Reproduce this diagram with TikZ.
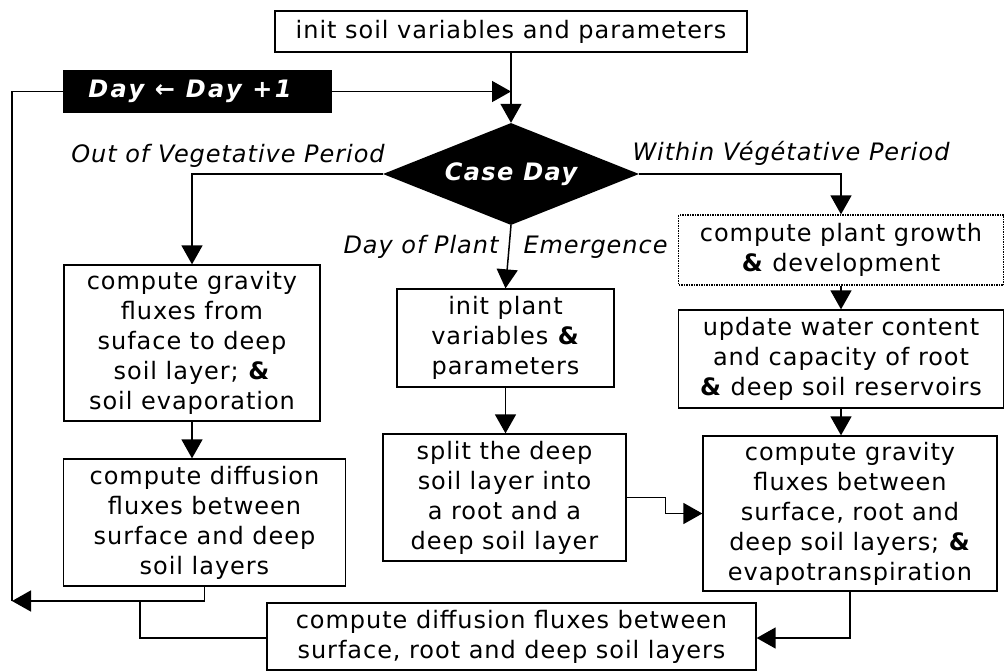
\documentclass[tikz,border=0pt]{standalone}
\usepackage{fontspec}
\setmainfont[LetterSpace=4]{DejaVu Sans}
\usetikzlibrary{arrows.meta,shapes.geometric}

\begin{document}
\begin{tikzpicture}[x=1pt, y=-1pt, font=\fontsize{24}{30}\selectfont,
    box/.style={draw, line width=1.3pt, inner sep=0pt, align=center},
    flow/.style={line width=1.5pt, -{Triangle[length=19pt,width=21pt]}},
    link/.style={line width=1.5pt},
    branch/.style={font=\fontsize{24}{30}\selectfont\itshape}]
    \useasboundingbox (0,0) rectangle (1004,670);

    % --- TRONC COMMUN ---
    \node[box, minimum width=472pt, minimum height=41pt] (initsoil) at (511,31.5) {init soil variables and parameters};
    \node[fill=black, text=white, inner sep=0pt, minimum width=269pt, minimum height=43pt,
          font=\fontsize{24}{30}\selectfont\bfseries\itshape\addfontfeatures{LetterSpace=10}] (day) at (197.5,91.5)
        {Day ← Day +1\hspace*{15pt}};
    \node[diamond, fill=black, text=white, inner sep=0pt, aspect=2.5, minimum width=256pt, minimum height=102pt,
          font=\fontsize{24}{30}\selectfont\bfseries\itshape\addfontfeatures{LetterSpace=6}] (case) at (511,174) {Case Day};

    % Etiquettes des branches
    \node[branch, anchor=base] (outveg) at (228,162) {Out of Vegetative Period};
    \node[branch, anchor=base] (withinveg) at (791,160) {Within Végétative Period};
    \node[branch, anchor=base east] (dayplant) at (502,253) {Day of Plant};
    \node[branch, anchor=base west] (emerg) at (520,253) {Emergence};

    % --- BRANCHE GAUCHE : hors periode vegetative ---
    \node[box, minimum width=256pt, minimum height=156pt] (gravsurf) at (192,343)
        {compute gravity\\fluxes from\\suface to deep\\soil layer; \textbf{\&}\\soil evaporation};
    \node[box, minimum width=282pt, minimum height=127pt] (diffsurf) at (204.5,522.5)
        {compute diffusion\\fluxes between\\surface and deep\\soil layers};

    % --- BRANCHE CENTRALE : jour d'emergence ---
    \node[box, minimum width=217pt, minimum height=98pt] (initplant) at (505.5,338)
        {init plant\\variables \textbf{\&}\\parameters};
    \node[box, minimum width=243pt, minimum height=127pt] (split) at (504.5,497.5)
        {split the deep\\soil layer into\\a root and a\\deep soil layer};

    % --- BRANCHE DROITE : dans la periode vegetative ---
    \node[box, dash pattern=on 1.5pt off 1pt, minimum width=325pt, minimum height=70pt] (growth) at (841,250)
        {compute plant growth\\\textbf{\&} development};
    \node[box, minimum width=325pt, minimum height=98pt] (update) at (841,359)
        {update water content\\and capacity of root\\\textbf{\&} deep soil reservoirs};
    \node[box, minimum width=294pt, minimum height=155pt] (gravroot) at (850,513.5)
        {compute gravity\\fluxes between\\surface, root and\\deep soil layers; \textbf{\&}\\evapotranspiration};

    % --- SORTIE COMMUNE ---
    \node[box, minimum width=489pt, minimum height=67pt] (diffroot) at (511.5,636.5)
        {compute diffusion fluxes between\\surface, root and deep soil layers};

    % Points de la boucle journaliere
    \coordinate (loopbot) at (12,601);
    \coordinate (join) at (140,601);

    % Connecteurs
    \draw[flow] (initsoil.south) -- (case.north);
    \draw[flow] (day.east) -- (day.east -| case.north);
    \draw[flow] (case.west) -| (gravsurf.north);
    \draw[flow] (case.east) -| (growth.north);
    \draw[flow] (case.south) -- (initplant.north);
    \draw[flow] (gravsurf.south) -- (gravsurf.south |- diffsurf.north);
    \draw[flow] (initplant.south) -- (initplant.south |- split.north);
    \draw[flow] (growth.south) -- (update.north);
    \draw[flow] (update.south) -- (update.south |- gravroot.north);
    \draw[flow] (split.east) -- ++(39,0) |- (gravroot.west);
    \draw[flow] (gravroot.south) |- ([yshift=-1.5pt]diffroot.east);
    \draw[flow] (diffsurf.south) |- (loopbot);
    \draw[link] ([yshift=-1.5pt]diffroot.west) -| (join);
    \draw[link] (loopbot) |- (day.west);
\end{tikzpicture}
\end{document}
